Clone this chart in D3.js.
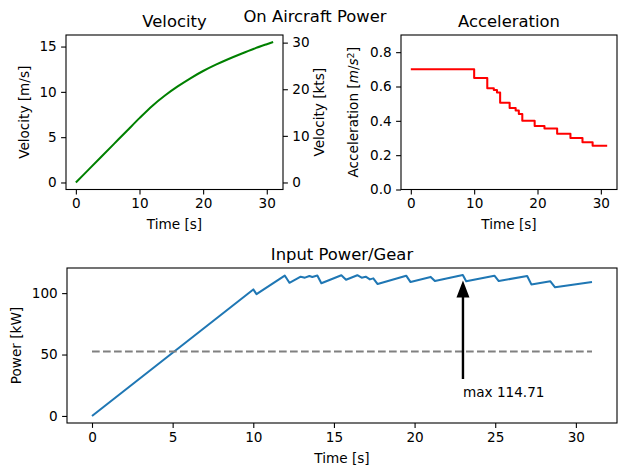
<!DOCTYPE html>
<html>
<head>
<meta charset="utf-8">
<script src="https://cdn.jsdelivr.net/npm/d3@7"></script>
<style>
  body { margin: 0; background: #fff; }
  text { font-family: "DejaVu Sans", sans-serif; fill: #000; }
</style>
</head>
<body>
<script>
// velocity [m/s]
const velTime = [0, 2, 4, 6, 8, 10, 12, 14, 16, 18, 20, 22, 24, 26, 28, 30, 31];
const velocity = [0, 1.42, 2.84, 4.26, 5.68, 7.1, 8.45, 9.6, 10.6, 11.5, 12.3, 13.0, 13.63, 14.21, 14.76, 15.26, 15.5];
const KTS = 1.94384;

// acceleration steps [m/s^2]
const accTime = [0, 10, 12.07, 13.1, 13.6, 14.1, 15.6, 16.55, 17.05, 17.6, 19.55, 21.1, 23.1, 25.2, 27.1, 28.7, 31];
const accel = [0.70, 0.65, 0.59, 0.58, 0.565, 0.505, 0.475, 0.46, 0.44, 0.40, 0.37, 0.355, 0.325, 0.30, 0.275, 0.255, 0.255];

// input power [kW]
const powTime = [0, 10, 10.2, 11.95, 12.24, 12.94, 13.2, 13.48, 13.66, 13.97, 14.22, 15.46, 15.75, 16.45, 16.72,
  16.97, 17.23, 17.44, 17.71, 19.48, 19.75, 21.0, 21.26, 22.99, 23.2, 24.95, 25.22, 26.98, 27.24, 28.42, 28.71, 31];
const power = [0, 103, 99.2, 114.3, 108.4, 113.4, 112.6, 114.0, 113.2, 114.3, 108, 114.5, 110.9, 114.6, 112.6,
  113.4, 111.2, 112, 107.4, 114.2, 109, 113.2, 109.8, 114.71, 109.6, 114.2, 109.8, 114, 107.1, 109.6, 104.7, 109.0];
const avgPower = 52.5;
const maxPower = 114.71, maxTime = 23, maxTextLevel = 15;

const timeTicks = [0, 10, 20, 30];
const timeTicksFine = [0, 5, 10, 15, 20, 25, 30];

const FS = 13.6, TS = 16.4, TICK = 4.9;
const svg = d3.select('body').append('svg').attr('width', 629).attr('height', 475);

function createAxes(spec) {
    // spec: box, xDomain, yDomain, ticks, labels
    var ax = spec;
    ax.x = d3.scaleLinear().domain(spec.xDomain).range([spec.left, spec.right]);
    ax.y = d3.scaleLinear().domain(spec.yDomain).range([spec.bottom, spec.top]);
    ax.g = svg.append('g');

    ax.drawTicks = function () {
        let gx = ax.g.append('g').attr('transform', `translate(0,${spec.bottom})`)
            .call(d3.axisBottom(ax.x).tickValues(spec.xTicks).tickFormat(d3.format('d'))
                .tickSize(TICK).tickPadding(4.4).tickSizeOuter(0));
        let gy = ax.g.append('g').attr('transform', `translate(${spec.left},0)`)
            .call(d3.axisLeft(ax.y).tickValues(spec.yTicks).tickFormat(spec.yFormat || d3.format('d'))
                .tickSize(TICK).tickPadding(4.4).tickSizeOuter(0));
        [gx, gy].forEach(g => {
            g.select('.domain').remove();
            g.selectAll('text').attr('font-size', FS).attr('font-family', '"DejaVu Sans", sans-serif');
            g.selectAll('line').attr('stroke-width', 1.1);
        });
    };

    ax.drawFrame = function () {
        ax.g.append('rect')
            .attr('x', spec.left).attr('y', spec.top)
            .attr('width', spec.right - spec.left).attr('height', spec.bottom - spec.top)
            .attr('fill', 'none').attr('stroke', '#000').attr('stroke-width', 1.1);
    };

    ax.drawLabels = function () {
        ax.g.append('text').attr('x', (spec.left + spec.right) / 2).attr('y', spec.top - 8.3)
            .attr('text-anchor', 'middle').attr('font-size', TS).text(spec.title);
        ax.g.append('text').attr('x', (spec.left + spec.right) / 2).attr('y', spec.bottom + 39.5)
            .attr('text-anchor', 'middle').attr('font-size', FS).text('Time [s]');
        let yl = ax.g.append('text')
            .attr('transform', `translate(${spec.yLabelX},${(spec.top + spec.bottom) / 2}) rotate(-90)`)
            .attr('text-anchor', 'middle').attr('font-size', FS);
        if (spec.yLabelParts) {
            spec.yLabelParts.forEach(p => {
                let t = yl.append('tspan').text(p.t);
                if (p.italic) t.attr('font-style', 'italic');
                if (p.sup) t.attr('baseline-shift', '40%').attr('font-size', FS * 0.7);
            });
        } else {
            yl.text(spec.yLabel);
        }
    };

    ax.line = function (xs, ys, color, curve) {
        let pts = xs.map((t, i) => [t, ys[i]]);
        return ax.g.append('path').datum(pts)
            .attr('d', d3.line().x(d => ax.x(d[0])).y(d => ax.y(d[1])).curve(curve || d3.curveLinear))
            .attr('fill', 'none').attr('stroke', color).attr('stroke-width', 2.05)
            .attr('stroke-linejoin', 'round');
    };
    return ax;
}

// Velocity
let velAx = createAxes({
    left: 66, right: 283, top: 35, bottom: 189.5,
    xDomain: [-1.55, 32.55], yDomain: [-0.775, 16.275],
    xTicks: timeTicks, yTicks: [0, 5, 10, 15],
    title: 'Velocity', yLabel: 'Velocity [m/s]', yLabelX: 29
});
velAx.drawTicks();
velAx.line(velTime, velocity, '#008000', d3.curveCatmullRom);
velAx.drawFrame();
velAx.drawLabels();

// twin axis in knots
let ktsY = d3.scaleLinear().domain(velAx.yDomain.map(v => v * KTS)).range([189.5, 35]);
let gk = svg.append('g').attr('transform', 'translate(283,0)')
    .call(d3.axisRight(ktsY).tickValues([0, 10, 20, 30]).tickSize(TICK).tickPadding(4.4).tickSizeOuter(0));
gk.select('.domain').remove();
gk.selectAll('text').attr('font-size', FS).attr('font-family', '"DejaVu Sans", sans-serif');
gk.selectAll('line').attr('stroke-width', 1.1);
svg.append('text').attr('transform', `translate(324,${(35 + 189.5) / 2}) rotate(-90)`)
    .attr('text-anchor', 'middle').attr('font-size', FS).text('Velocity [kts]');

// Acceleration
let accAx = createAxes({
    left: 401, right: 617, top: 35, bottom: 189.5,
    xDomain: [-1.55, 32.55], yDomain: [0, 0.9],
    xTicks: timeTicks, yTicks: [0, 0.2, 0.4, 0.6, 0.8], yFormat: d3.format('.1f'),
    title: 'Acceleration', yLabelX: 358,
    yLabelParts: [{ t: 'Acceleration [' }, { t: 'm', italic: true }, { t: '/' }, { t: 's', italic: true },
        { t: '2', sup: true }, { t: ']' }]
});
accAx.drawTicks();
accAx.line(accTime, accel, '#ff0000', d3.curveStepAfter);
accAx.drawFrame();
accAx.drawLabels();

// Power
let powAx = createAxes({
    left: 67, right: 617, top: 268, bottom: 423,
    xDomain: [-1.55, 32.55], yDomain: [-5.74, 120.45],
    xTicks: timeTicksFine, yTicks: [0, 50, 100],
    title: 'Input Power/Gear', yLabel: 'Power [kW]', yLabelX: 21
});
powAx.drawTicks();
powAx.line(powTime, power, '#1f77b4');
powAx.g.append('line')
    .attr('x1', powAx.x(0)).attr('x2', powAx.x(31))
    .attr('y1', powAx.y(avgPower)).attr('y2', powAx.y(avgPower))
    .attr('stroke', '#808080').attr('stroke-width', 2.05).attr('stroke-dasharray', '7.7,3.3');

// annotation arrow to max
let ax0 = powAx.x(maxTime), textY = powAx.y(maxTextLevel);
let tipY = powAx.y(maxPower), tailY = textY - 13;
let shrink = 0.05 * (tailY - tipY);
tipY += shrink; tailY -= shrink;
let headLen = 17, headW = 13, shaftW = 2.4;
powAx.g.append('path')
    .attr('d', `M${ax0 - shaftW / 2},${tailY} L${ax0 - shaftW / 2},${tipY + headLen} L${ax0 - headW / 2},${tipY + headLen}
      L${ax0},${tipY} L${ax0 + headW / 2},${tipY + headLen} L${ax0 + shaftW / 2},${tipY + headLen} L${ax0 + shaftW / 2},${tailY} Z`)
    .attr('fill', '#000');
powAx.g.append('text').attr('x', ax0).attr('y', textY - 1).attr('font-size', FS)
    .text('max ' + maxPower.toFixed(2));
powAx.drawFrame();
powAx.drawLabels();

// figure title
svg.append('text').attr('x', 315).attr('y', 21.5).attr('text-anchor', 'middle')
    .attr('font-size', TS).text('On Aircraft Power');
</script>
</body>
</html>
